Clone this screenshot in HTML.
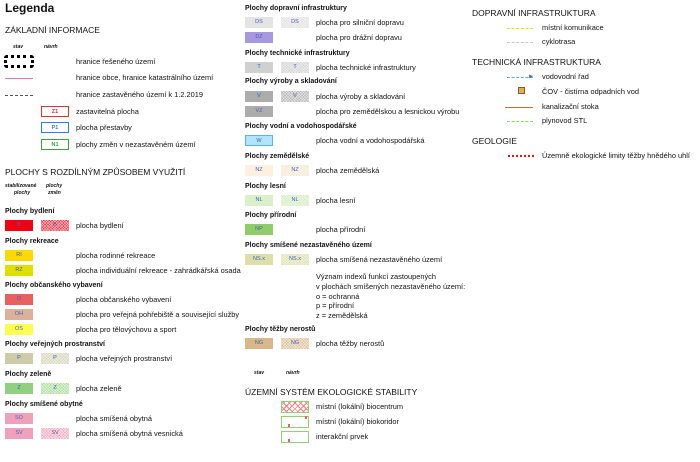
<!DOCTYPE html>
<html><head><meta charset="utf-8">
<style>
*{margin:0;padding:0;box-sizing:border-box}
body{width:700px;height:462px;background:#fff;position:relative;overflow:hidden;font-family:"Liberation Sans",sans-serif;color:#111}
.a{position:absolute;white-space:nowrap;line-height:1}
.t{font-size:7.4px}
.h{font-size:7px;font-weight:bold}
.H{font-size:8.5px}
.s{font-size:5px;font-style:italic;font-weight:bold}
.b{position:absolute;width:28px;height:11px;font-size:5.5px;color:#4060c0;text-align:center;line-height:11px}
.x{background-image:repeating-linear-gradient(45deg,rgba(255,255,255,.45) 0 1px,transparent 1px 2px),repeating-linear-gradient(-45deg,rgba(255,255,255,.45) 0 1px,transparent 1px 2px)}
.ln{position:absolute;height:0}
</style></head><body>
<div class="a" style="left:5px;top:2px;font-size:12px;font-weight:bold">Legenda</div>
<div class="a H" style="left:5px;top:26px">ZÁKLADNÍ INFORMACE</div>
<div class="a s" style="left:13px;top:45px">stav</div>
<div class="a s" style="left:44px;top:45px">návrh</div>
<div style="position:absolute;left:4px;top:55px;width:30px;height:13px;border:3px dotted #000;border-radius:3px"></div>
<div class="a t" style="left:76px;top:58px">hranice řešeného území</div>
<div class="ln" style="left:5px;top:78px;width:28px;border-top:1.5px solid #e870d0"></div>
<div class="a t" style="left:76px;top:74px">hranice obce, hranice katastrálního území</div>
<div class="ln" style="left:5px;top:95px;width:28px;border-top:1px dashed #555"></div>
<div class="a t" style="left:76px;top:91px">hranice zastavěného území k 1.2.2019</div>
<div class="b" style="left:41px;top:106px;border:1px solid #e03030;color:#e03030;font-weight:bold">Z1</div>
<div class="a t" style="left:76px;top:108px">zastavitelná plocha</div>
<div class="b" style="left:41px;top:122px;border:1px solid #3080e0;color:#3080e0;font-weight:bold">P1</div>
<div class="a t" style="left:76px;top:124px">plocha přestavby</div>
<div class="b" style="left:41px;top:139px;border:1px solid #40a040;color:#40a040;font-weight:bold">N1</div>
<div class="a t" style="left:76px;top:141px">plochy změn v nezastavěném území</div>

<div class="a H" style="left:5px;top:168px">PLOCHY S ROZDÍLNÝM ZPŮSOBEM VYUŽITÍ</div>
<div class="a s" style="left:5px;top:184px">stabilizované</div>
<div class="a s" style="left:14px;top:191px">plochy</div>
<div class="a s" style="left:46px;top:184px">plochy</div>
<div class="a s" style="left:48px;top:191px">změn</div>

<div class="a h" style="left:5px;top:208px">Plochy bydlení</div>
<div class="b" style="left:5px;top:220px;background:#f00010">B</div>
<div class="b x" style="left:41px;top:220px;background-color:#f02030">B</div>
<div class="a t" style="left:76px;top:222px">plocha bydlení</div>
<div class="a h" style="left:5px;top:238px">Plochy rekreace</div>
<div class="b" style="left:5px;top:250px;background:#ffd800">RI</div>
<div class="a t" style="left:76px;top:252px">plocha rodinné rekreace</div>
<div class="b" style="left:5px;top:265px;background:#e0e000">RZ</div>
<div class="a t" style="left:76px;top:267px">plocha individuální rekreace - zahrádkářská osada</div>
<div class="a h" style="left:5px;top:282px">Plochy občanského vybavení</div>
<div class="b" style="left:5px;top:294px;background:#e86060">O</div>
<div class="a t" style="left:76px;top:296px">plocha občanského vybavení</div>
<div class="b" style="left:5px;top:309px;background:#dcb09a">OH</div>
<div class="a t" style="left:76px;top:311px">plocha pro veřejná pohřebiště a související služby</div>
<div class="b" style="left:5px;top:324px;background:#ffff50">OS</div>
<div class="a t" style="left:76px;top:326px">plocha pro tělovýchovu a sport</div>
<div class="a h" style="left:5px;top:341px">Plochy veřejných prostranství</div>
<div class="b" style="left:5px;top:353px;background:#cccca8">P</div>
<div class="b x" style="left:41px;top:353px;background-color:#d0d0b0">P</div>
<div class="a t" style="left:76px;top:355px">plocha veřejných prostranství</div>
<div class="a h" style="left:5px;top:371px">Plochy zeleně</div>
<div class="b" style="left:5px;top:383px;background:#90d080">Z</div>
<div class="b x" style="left:41px;top:383px;background-color:#a0d890">Z</div>
<div class="a t" style="left:76px;top:385px">plocha zeleně</div>
<div class="a h" style="left:5px;top:401px">Plochy smíšené obytné</div>
<div class="b" style="left:5px;top:413px;background:#f0a0b8">SO</div>
<div class="a t" style="left:76px;top:415px">plocha smíšená obytná</div>
<div class="b" style="left:5px;top:428px;background:#f0a0b8">SV</div>
<div class="b x" style="left:41px;top:428px;background-color:#f0a0b8">SV</div>
<div class="a t" style="left:76px;top:430px">plocha smíšená obytná vesnická</div>

<div class="a h" style="left:245px;top:5px">Plochy dopravní infrastruktury</div>
<div class="b" style="left:245px;top:17px;background:#e4e4e4">DS</div>
<div class="b x" style="left:281px;top:17px;background-color:#dcdcdc">DS</div>
<div class="a t" style="left:316px;top:19px">plocha pro silniční dopravu</div>
<div class="b" style="left:245px;top:32px;background:#a898e0">DZ</div>
<div class="a t" style="left:316px;top:34px">plocha pro drážní dopravu</div>
<div class="a h" style="left:245px;top:50px">Plochy technické infrastruktury</div>
<div class="b" style="left:245px;top:62px;background:#d0d0d0">T</div>
<div class="b x" style="left:281px;top:62px;background-color:#cccccc">T</div>
<div class="a t" style="left:316px;top:64px">plocha technické infrastruktury</div>
<div class="a h" style="left:245px;top:78px">Plochy výroby a skladování</div>
<div class="b" style="left:245px;top:91px;background:#acacac">V</div>
<div class="b x" style="left:281px;top:91px;background-color:#acacac">V</div>
<div class="a t" style="left:316px;top:93px">plocha výroby a skladování</div>
<div class="b" style="left:245px;top:106px;background:#acacac">VZ</div>
<div class="a t" style="left:316px;top:108px">plocha pro zemědělskou a lesnickou výrobu</div>
<div class="a h" style="left:245px;top:123px">Plochy vodní a vodohospodářské</div>
<div class="b" style="left:245px;top:135px;background:#b0e4ff;border:1px solid #60b0f0">W</div>
<div class="a t" style="left:316px;top:137px">plocha vodní a vodohospodářská</div>
<div class="a h" style="left:245px;top:153px">Plochy zemědělské</div>
<div class="b" style="left:245px;top:165px;background:#fcf0e0">NZ</div>
<div class="b x" style="left:281px;top:165px;background-color:#f4e4cc">NZ</div>
<div class="a t" style="left:316px;top:167px">plocha zemědělská</div>
<div class="a h" style="left:245px;top:183px">Plochy lesní</div>
<div class="b" style="left:245px;top:195px;background:#daf0c8">NL</div>
<div class="b x" style="left:281px;top:195px;background-color:#cce8b8">NL</div>
<div class="a t" style="left:316px;top:197px">plocha lesní</div>
<div class="a h" style="left:245px;top:212px">Plochy přírodní</div>
<div class="b" style="left:245px;top:224px;background:#90cc68">NP</div>
<div class="a t" style="left:316px;top:226px">plocha přírodní</div>
<div class="a h" style="left:245px;top:242px">Plochy smíšené nezastavěného území</div>
<div class="b" style="left:245px;top:254px;background:#dce0a8">NS.x</div>
<div class="b x" style="left:281px;top:254px;background-color:#d8dca0">NS.x</div>
<div class="a t" style="left:316px;top:256px">plocha smíšená nezastavěného území</div>
<div class="a t" style="left:316px;top:272px;line-height:9.8px">Význam indexů funkcí zastoupených<br>v plochách smíšených nezastavěného území:<br>o = ochranná<br>p = přírodní<br>z = zemědělská</div>
<div class="a h" style="left:245px;top:326px">Plochy těžby nerostů</div>
<div class="b" style="left:245px;top:338px;background:#d8b888">NG</div>
<div class="b x" style="left:281px;top:338px;background-color:#d8b888">NG</div>
<div class="a t" style="left:316px;top:340px">plocha těžby nerostů</div>
<div class="a s" style="left:254px;top:371px">stav</div>
<div class="a s" style="left:286px;top:371px">návrh</div>
<div class="a H" style="left:245px;top:388px">ÚZEMNÍ SYSTÉM EKOLOGICKÉ STABILITY</div>
<div class="b" style="left:281px;top:401px;height:12px;border:1px solid #90d070;background-color:#fff;background-image:repeating-linear-gradient(45deg,transparent 0 3px,#f08080 3px 4px),repeating-linear-gradient(-45deg,transparent 0 3px,#f08080 3px 4px)"></div>
<div class="a t" style="left:316px;top:403px">místní (lokální) biocentrum</div>
<div class="b" style="left:281px;top:416px;height:12px;border:1px solid #90d070"></div>
<div style="position:absolute;left:305px;top:416px;width:2px;height:3px;background:#f06060"></div>
<div style="position:absolute;left:288px;top:424px;width:2px;height:3px;background:#f06060"></div>
<div class="a t" style="left:316px;top:418px">místní (lokální) biokoridor</div>
<div class="b" style="left:281px;top:431px;height:12px;border:1px solid #90d070"></div>
<div style="position:absolute;left:288px;top:439px;width:2px;height:3px;background:#f06060"></div>
<div class="a t" style="left:316px;top:433px">interakční prvek</div>

<div class="a H" style="left:472px;top:9px">DOPRAVNÍ INFRASTRUKTURA</div>
<div class="ln" style="left:507px;top:28px;width:26px;border-top:1.2px dashed #e8e000"></div>
<div class="a t" style="left:542px;top:24px">místní komunikace</div>
<div class="ln" style="left:507px;top:42px;width:26px;border-top:1px dashed #c8c8c8"></div>
<div class="a t" style="left:542px;top:38px">cyklotrasa</div>
<div class="a H" style="left:472px;top:58px">TECHNICKÁ INFRASTRUKTURA</div>
<div class="ln" style="left:507px;top:77px;width:26px;border-top:1.2px dashed #6aa0f0"></div>
<div class="a" style="left:528px;top:74px;font-size:6px;color:#2060e0">►</div>
<div class="a t" style="left:542px;top:73px">vodovodní řad</div>
<div style="position:absolute;left:518px;top:87px;width:7px;height:7px;border:1px solid #806020;background:#e0b060"></div>
<div class="a t" style="left:542px;top:88px">ČOV - čistírna odpadních vod</div>
<div class="ln" style="left:505px;top:107px;width:28px;border-top:1px solid #b07830"></div>
<div class="a t" style="left:542px;top:103px">kanalizační stoka</div>
<div class="ln" style="left:507px;top:121px;width:26px;border-top:1px dashed #80e060"></div>
<div class="a t" style="left:542px;top:117px">plynovod STL</div>
<div class="a H" style="left:472px;top:137px">GEOLOGIE</div>
<div class="ln" style="left:508px;top:155px;width:26px;border-top:2px dotted #e01020"></div>
<div class="a t" style="left:542px;top:152px">Územně ekologické limity těžby hnědého uhlí</div>
</body></html>
